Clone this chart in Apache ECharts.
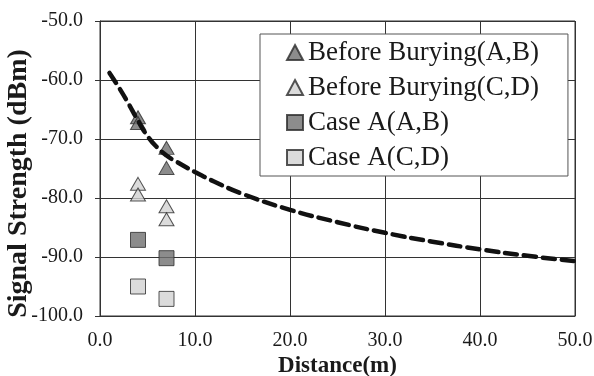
<!DOCTYPE html>
<html>
<head>
<meta charset="utf-8">
<script src="https://cdn.jsdelivr.net/npm/echarts@6/dist/echarts.min.js"></script>
<style>
  html, body { margin: 0; padding: 0; background: #fff; }
  #chart { width: 594px; height: 376px; }
</style>
</head>
<body>
<div id="chart"></div>
<script>
// measured points, [distance, dBm]
const beforeAB = [[4, -66.3], [4, -67.3], [7, -71.5], [7, -74.9]];
const beforeCD = [[4, -77.6], [4, -79.4], [7, -81.4], [7, -83.6]];
const caseAAB = [[4, -87.1], [7, -90.2]];
const caseACD = [[4, -95.0], [7, -97.1]];

// dashed fit curve
const curveX = [1, 2, 3, 4, 5, 6, 7, 8, 10, 12, 15, 20, 25, 30, 35, 40, 45, 50];
const curveY = [-58.8, -61.3, -64.0, -66.9, -69.5, -71.4, -72.8, -73.8, -75.6, -77.2, -79.3, -82.0, -84.1, -85.9, -87.4, -88.7, -89.8, -90.7];

const legendNames = ["Before Burying(A,B)", "Before Burying(C,D)", "Case A(A,B)", "Case A(C,D)"];

const serif = "'Liberation Serif', 'Times New Roman', serif";
const dark = "#6f6f6f";
const light = "#d2d2d2";

const chart = echarts.init(document.getElementById("chart"), null, { renderer: "canvas" });

function markerSeries(name, data, symbol, size, color) {
  return {
    name: name,
    type: "scatter",
    data: data,
    symbol: symbol,
    symbolSize: size,
    itemStyle: { color: color, borderColor: "#2a2a2a", borderWidth: 1 },
    z: 3
  };
}

chart.setOption({
  animation: false,
  backgroundColor: "#fff",
  textStyle: { fontFamily: serif, color: "#1a1a1a" },
  grid: {
    left: 100, right: 19, top: 21, bottom: 60,
    outerBoundsMode: "none",
    containLabel: false,
    show: true, borderColor: "#333", borderWidth: 1, backgroundColor: "#fff"
  },
  xAxis: {
    type: "value",
    min: 0, max: 50, interval: 10,
    name: "Distance(m)",
    nameLocation: "middle",
    nameGap: 39,
    nameMoveOverlap: false,
    nameTextStyle: { fontFamily: serif, fontWeight: "bold", fontSize: 23, color: "#1a1a1a" },
    axisLine: { onZero: false, lineStyle: { color: "#333", width: 1 } },
    axisTick: { show: false },
    axisLabel: {
      fontFamily: serif, fontSize: 20, color: "#1a1a1a", margin: 15,
      formatter: v => v.toFixed(1)
    },
    splitLine: { show: true, lineStyle: { color: "#333", width: 1 } }
  },
  yAxis: {
    type: "value",
    min: -100, max: -50, interval: 10,
    name: "Signal Strength (dBm)",
    nameLocation: "middle",
    nameGap: 67,
    nameMoveOverlap: false,
    nameTextStyle: {
      fontFamily: serif, fontWeight: "bold", fontSize: 28, color: "#1a1a1a",
      padding: [0, 30, 0, 0]
    },
    axisLine: { show: true, onZero: false, lineStyle: { color: "#333", width: 1 } },
    axisTick: { show: true, length: 5, lineStyle: { color: "#333" } },
    axisLabel: {
      fontFamily: serif, fontSize: 20, color: "#1a1a1a", margin: 17,
      formatter: v => v.toFixed(1)
    },
    splitLine: { show: true, lineStyle: { color: "#333", width: 1 } }
  },
  legend: {
    data: legendNames,
    orient: "vertical",
    left: 260, top: 34,
    padding: [5, 29, 5, 26],
    itemWidth: 16, itemHeight: 15, itemGap: 8,
    backgroundColor: "#fff",
    borderColor: "#555", borderWidth: 1,
    textStyle: { fontFamily: serif, fontSize: 27, lineHeight: 27, color: "#1a1a1a" }
  },
  series: [
    markerSeries(legendNames[0], beforeAB, "triangle", [15, 13], dark),
    markerSeries(legendNames[1], beforeCD, "triangle", [15, 13], light),
    markerSeries(legendNames[2], caseAAB, "rect", [15, 15], dark),
    markerSeries(legendNames[3], caseACD, "rect", [15, 15], light),
    {
      name: "fit",
      type: "line",
      data: curveX.map((x, i) => [x, curveY[i]]),
      smooth: true,
      symbol: "none",
      lineStyle: { color: "#111", width: 4.5, type: [12, 7], cap: "round" },
      z: 4
    }
  ]
});
</script>
</body>
</html>
